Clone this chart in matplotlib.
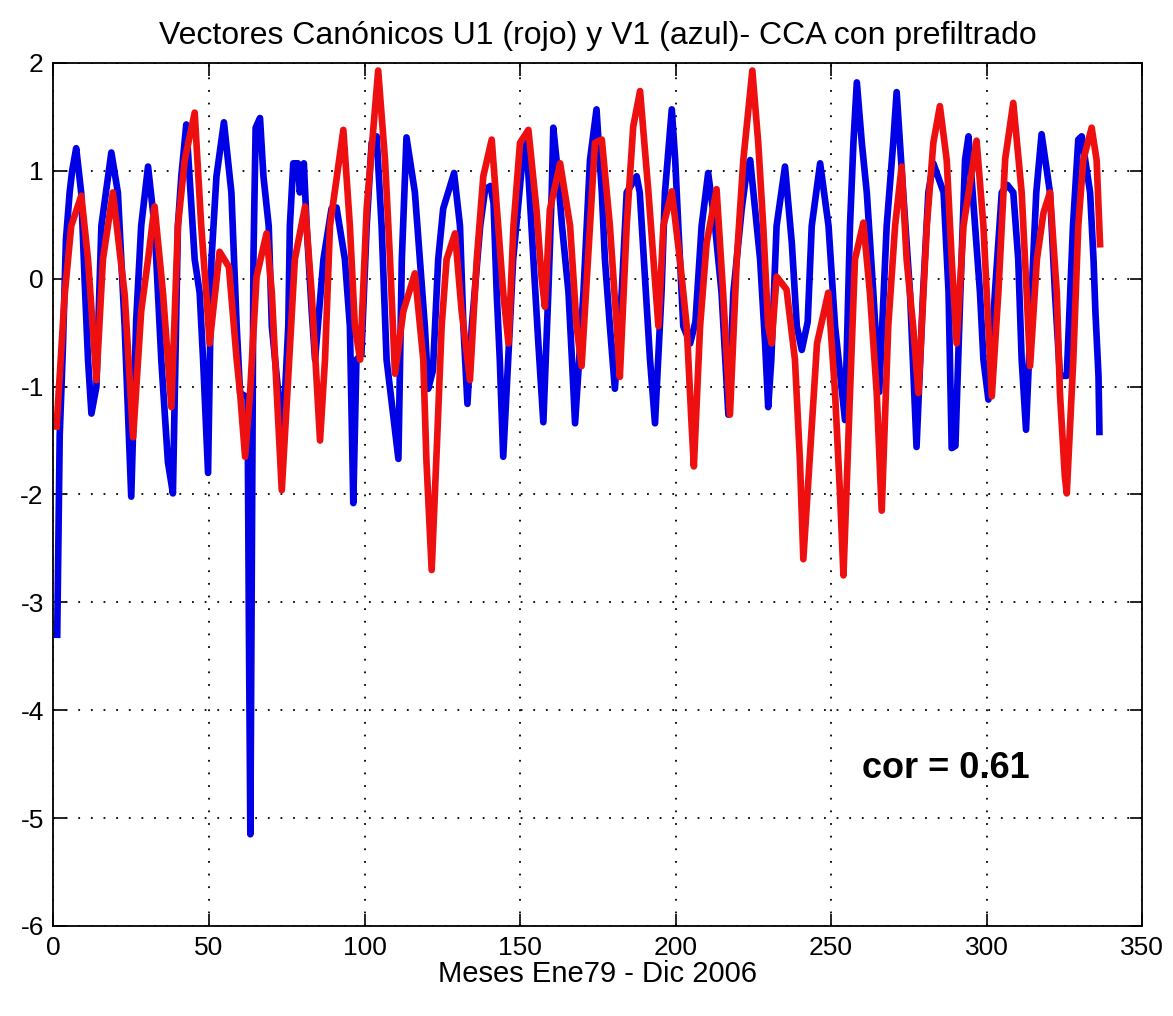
import matplotlib
matplotlib.use("Agg")
import matplotlib.pyplot as plt

plt.rcParams['axes.unicode_minus'] = False

# V1 (azul) (mes, valor)
v1_mes = [1.2, 2, 3, 4, 5.2, 6, 7.3, 8.9, 10, 11.1, 12.2, 13.8, 15.4, 18.6, 20.7, 22.9, 25,
          26.6, 28.2, 30.4, 32.5, 34.7, 36.8, 38.4, 40.0, 41.1, 42.7, 45.4, 47.0, 48.1, 49.7,
          50.8, 52.4, 54.8, 57.2, 58.9, 60, 62.4, 62.8, 63.3, 64.3, 65, 66.4, 67.5, 69.2, 70.2,
          72.3, 73.9, 75.5, 76, 77.1, 78.6, 79.2, 80.5, 81.4, 83, 84.1, 86.8, 89.4, 91, 93.7,
          95.3, 96.4, 97.4, 99, 100.7, 102.3, 103.9, 105.5, 107.1, 110.9, 112, 113.5, 116.2,
          117.8, 119.4, 120.5, 122, 123.7, 125.3, 128.8, 130.7, 131.8, 133.1, 134.5, 137.2,
          138.8, 140.5, 141.5, 142.5, 143.5, 144.6, 146.2, 147.8, 151.0, 152.1, 154.3, 155.9,
          157.5, 159.1, 160.2, 160.7, 162.1, 163.5, 165.6, 166.7, 167.7, 170.4, 172.5, 174.6,
          176.3, 177.3, 178.9, 180.5, 182.7, 184.3, 187.5, 188.5, 190.2, 191.8, 193.4, 195.5,
          196.6, 198.8, 199.9, 200.9, 202.5, 204.7, 206.4, 208.4, 210.5, 212.7, 214.8, 217,
          218.6, 221.3, 222.9, 224, 227.2, 228.8, 229.8, 230.8, 232.5, 235.2, 237.4, 239,
          240.6, 242.5, 243.8, 246.5, 249.2, 251.3, 254.5, 256.1, 257.2, 258.3, 259.9, 261.5,
          263.6, 265.5, 267.9, 270.0, 271.1, 273.2, 275.4, 277.5, 279.6, 281.3, 282.9, 286.2,
          287.8, 288.8, 290, 291.5, 293.1, 294.2, 296.3, 297.9, 299, 300.6, 302.7, 304.9,
          306.7, 308.6, 310.2, 311.3, 312.7, 315, 316, 317.7, 320.4, 322, 323.6, 325.8, 327.8,
          329.5, 330.6, 333.3, 334.4, 335, 336, 336.3]
v1_val = [-3.3, -1.45, -0.66, 0.36, 0.8, 1.0, 1.21, 0.8, 0.0, -0.75, -1.25, -1.0, 0.49, 1.17,
          0.8, -0.45, -2.02, -0.38, 0.49, 1.04, 0.49, -0.77, -1.7, -1.99, 0.49, 0.95, 1.43,
          0.18, -0.13, -0.75, -1.8, 0.18, 0.95, 1.45, 0.8, -0.44, -1.06, -1.1, -3.1, -5.15,
          0.2, 1.4, 1.49, 0.95, 0.49, -0.44, -1.06, -1.37, -0.44, 0.49, 1.07, 1.07, 0.8, 1.07,
          0.49, -0.29, -0.75, 0.18, 0.65, 0.66, 0.18, -0.44, -2.08, -0.75, -0.7, 0.49, 1.26,
          1.32, 0.49, -0.75, -1.67, 0.18, 1.31, 0.8, 0.18, -0.44, -1.02, -0.85, 0.18, 0.65,
          0.98, 0.49, -0.44, -1.16, -0.44, 0.49, 0.83, 0.86, 0.7, -0.13, -0.75, -1.65, -0.75,
          0.18, 1.17, 1.26, 0.18, -0.6, -1.33, -0.13, 0.8, 1.40, 1.0, 0.49, -0.13, -0.75,
          -1.34, -0.13, 1.1, 1.57, 0.8, 0.18, -0.44, -1.02, -0.13, 0.8, 0.95, 0.8, 0.0, -0.75,
          -1.34, -0.13, 0.8, 1.57, 1.1, 0.49, -0.44, -0.6, -0.4, 0.49, 0.98, 0.49, -0.13,
          -1.26, -0.13, 0.65, 1.0, 1.1, 0.18, -0.6, -1.19, -0.75, 0.49, 1.04, 0.33, -0.44,
          -0.66, -0.4, 0.49, 1.07, 0.49, -0.44, -1.31, 0.49, 1.26, 1.82, 1.26, 0.8, -0.13,
          -1.05, 0.49, 1.26, 1.73, 0.8, -0.13, -1.56, -0.13, 0.8, 1.07, 0.8, -0.13, -1.57,
          -1.55, -0.2, 1.1, 1.32, 0.49, -0.13, -0.75, -1.12, -0.13, 0.8, 0.87, 0.8, 0.18,
          -0.75, -1.40, 0.18, 0.8, 1.34, 0.8, -0.13, -0.9, -0.9, 0.49, 1.29, 1.32, 0.8, 0.18,
          -0.3, -0.9, -1.42]

# U1 (rojo)
u1_mes = [1, 3.6, 5.7, 8.95, 11.1, 13.8, 15.9, 19.1, 22.9, 25.6, 28.2, 30.4, 32.5, 35.2,
          37.9, 40.0, 42.2, 45.4, 47.5, 49.1, 50.2, 53.4, 56.4, 58.9, 60, 61.6, 63.2, 65.3,
          68.5, 70.2, 71.8, 73.4, 75.5, 77.6, 80.9, 83, 85.7, 87.3, 88.9, 93.2, 95.3, 96.9,
          98.6, 100.7, 104.4, 106.6, 108.2, 109.8, 112.5, 116.2, 118.9, 119.9, 121.6, 123.3,
          124.8, 126.4, 129.1, 131.2, 133.9, 136.1, 138.2, 140.9, 143, 144.6, 146.3, 147.9,
          150, 152.7, 155.3, 156.9, 158.0, 159.6, 162.9, 166.1, 168.2, 169.8, 172.5, 174.1,
          176.3, 178.9, 181.1, 182.1, 184.3, 186.4, 188.6, 191.3, 192.9, 194.5, 196.1, 198.8,
          201.4, 203.6, 205.2, 205.9, 207.9, 210.0, 213.2, 215.3, 217.5, 219.7, 221.8, 224.7,
          226.6, 228.2, 229.8, 230.9, 232.5, 235.7, 238.4, 240.0, 241.1, 243.8, 245.5, 249.1,
          251.3, 252.9, 254.0, 256.1, 257.7, 260.4, 262.5, 264.7, 266.3, 268.4, 270.6, 272.7,
          274.3, 276.4, 278.1, 280.8, 282.9, 285.0, 287.2, 288.8, 290.4, 292.6, 296.8, 299,
          300.6, 301.7, 303.8, 306, 308.6, 311.3, 312.9, 314, 316.2, 318.3, 320.4, 322.6,
          323.6, 325.2, 325.8, 327.9, 329.5, 331.1, 333.8, 335.4, 336.5]
u1_val = [-1.37, -0.15, 0.49, 0.77, 0.18, -0.94, 0.18, 0.80, -0.15, -1.47, -0.3, 0.18, 0.67,
          -0.13, -1.19, 0.49, 1.1, 1.54, 0.49, -0.13, -0.6, 0.25, 0.11, -0.75, -1.06, -1.65,
          -1.06, 0.02, 0.42, -0.13, -1.06, -1.96, -0.9, 0.18, 0.67, -0.13, -1.5, -0.75, 0.49,
          1.38, 0.49, -0.44, -0.75, 0.65, 1.93, 1.1, 0.18, -0.88, -0.3, 0.05, -0.75, -1.68,
          -2.70, -1.53, -0.44, 0.18, 0.42, -0.29, -0.94, 0.18, 0.95, 1.29, 0.49, -0.13, -0.6,
          0.49, 1.26, 1.38, 0.64, 0.02, -0.26, 0.64, 1.07, 0.49, -0.44, -0.81, 0.49, 1.26,
          1.29, 0.49, -0.44, -0.91, 0.49, 1.41, 1.74, 0.8, 0.18, -0.44, 0.49, 0.81, 0.18,
          -0.44, -1.37, -1.74, -0.44, 0.33, 0.83, -0.13, -1.26, 0.18, 1.1, 1.93, 1.26, 0.49,
          -0.44, -0.6, 0.02, -0.1, -0.75, -1.68, -2.6, -1.37, -0.6, -0.13, -1.06, -2.0, -2.75,
          -1.06, 0.18, 0.52, -0.13, -1.06, -2.15, -0.44, 0.49, 1.04, 0.18, -0.44, -1.06, 0.49,
          1.26, 1.60, 1.1, 0.18, -0.6, 0.49, 1.28, 0.49, -0.44, -1.09, -0.13, 1.11, 1.63, 0.8,
          -0.13, -0.81, 0.18, 0.61, 0.80, -0.13, -1.06, -1.84, -1.99, -0.75, 0.49, 1.1, 1.40,
          1.1, 0.32]

correlacion = 0.61

fuente = ['Liberation Sans', 'DejaVu Sans']

fig = plt.figure(figsize=(11.73, 10.16), dpi=100)
ax = fig.add_axes([0.0456, 0.0886, 0.928, 0.8494])

ax.plot(v1_mes, v1_val, color='#0000e6', linewidth=4.8, solid_joinstyle='round')
ax.plot(u1_mes, u1_val, color='#ee1010', linewidth=4.8, solid_joinstyle='round')

ax.set_xlim(0, 350)
ax.set_ylim(-6, 2)
ax.set_xticks(range(0, 351, 50))
ax.set_yticks(range(-6, 3))

ax.grid(True, color='black', linestyle=(0, (1, 6)), linewidth=1.3)
ax.tick_params(direction='in', length=9, width=1.2, top=True, right=True,
               labelsize=19, pad=7)
for lbl in ax.get_xticklabels() + ax.get_yticklabels():
    lbl.set_family(fuente)
for s in ax.spines.values():
    s.set_linewidth(1.3)

ax.set_title('Vectores Canónicos U1 (rojo) y V1 (azul)- CCA con prefiltrado',
             family=fuente, fontsize=23, pad=14)
ax.set_xlabel('Meses Ene79 - Dic 2006', family=fuente, fontsize=21, labelpad=0)

ax.text(260, -4.54, 'cor = %.2f' % correlacion, family=fuente,
        fontsize=26, fontweight='bold', va='center', ha='left')

fig.savefig('out.png', dpi=100, facecolor='white')
